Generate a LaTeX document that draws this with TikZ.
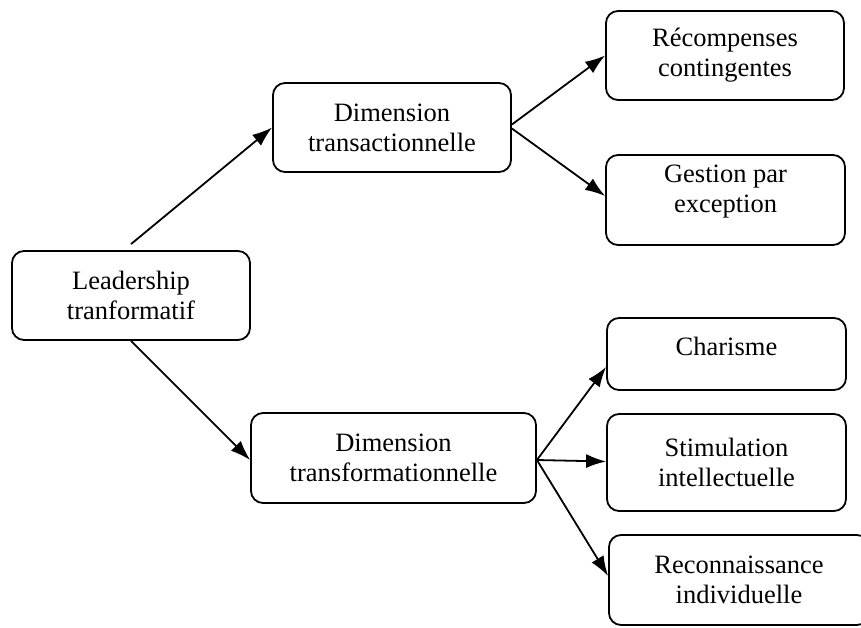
\documentclass[tikz,border=0pt]{standalone}
\usepackage{fontspec}
\setmainfont{Liberation Serif}
\usetikzlibrary{arrows.meta}
\begin{document}
\begin{tikzpicture}[x=1pt,y=-1pt,
  box/.style={draw, line width=1.8pt, rounded corners=12pt, align=center, inner sep=0pt, font=\fontsize{26.5}{30}\selectfont},
  txt/.style={align=center, inner sep=0pt, font=\fontsize{26.5}{30}\selectfont},
  arr/.style={line width=1.8pt, -{Latex[length=20pt,width=14pt]}}]
\useasboundingbox (0,0) rectangle (861,628);
\clip (0,0) rectangle (861,628);
% boxes
\node[box, minimum width=238pt, minimum height=89pt] (lead) at (131,295.5) {Leadership\\tranformatif};
\node[box, minimum width=238pt, minimum height=89pt] (dtrans) at (392,127.5) {Dimension\\transactionnelle};
\node[box, minimum width=238pt, minimum height=89pt] (recomp) at (725,55.5) {Récompenses\\contingentes};
\node[box, minimum width=239pt, minimum height=90pt] (gest) at (725.5,200) {};
\node[txt] (gest-t) at ([yshift=8pt]gest.center) {Gestion par\\exception};
\node[box, minimum width=285pt, minimum height=90pt] (dtransfo) at (393.5,458) {Dimension\\transformationnelle};
\node[box, minimum width=239pt, minimum height=72pt] (char) at (726.5,354) {};
\node[txt] (char-t) at ([yshift=8pt]char.center) {Charisme};
\node[box, minimum width=239pt, minimum height=97pt] (stim) at (726.5,462.5) {Stimulation\\intellectuelle};
\node[box, minimum width=260pt, minimum height=90pt] (recon) at (739,580) {Reconnaissance\\individuelle};
% connectors
\draw[arr] ([yshift=6pt]lead.north) -- (dtrans.west);
\draw[arr] ([yshift=3pt]dtrans.east) -- (recomp.west);
\draw[arr] ([yshift=-1pt]dtrans.east) -- ([yshift=4pt]gest.west);
\draw[arr] (lead.south) -- ([yshift=-2pt]dtransfo.west);
\draw[arr] ([yshift=-2pt]dtransfo.east) -- ([yshift=-13pt]char.west);
\draw[arr] ([yshift=-2pt]dtransfo.east) -- ([yshift=1pt]stim.west);
\draw[arr] ([yshift=-2pt]dtransfo.east) -- ([yshift=4pt]recon.west);
\end{tikzpicture}
\end{document}
